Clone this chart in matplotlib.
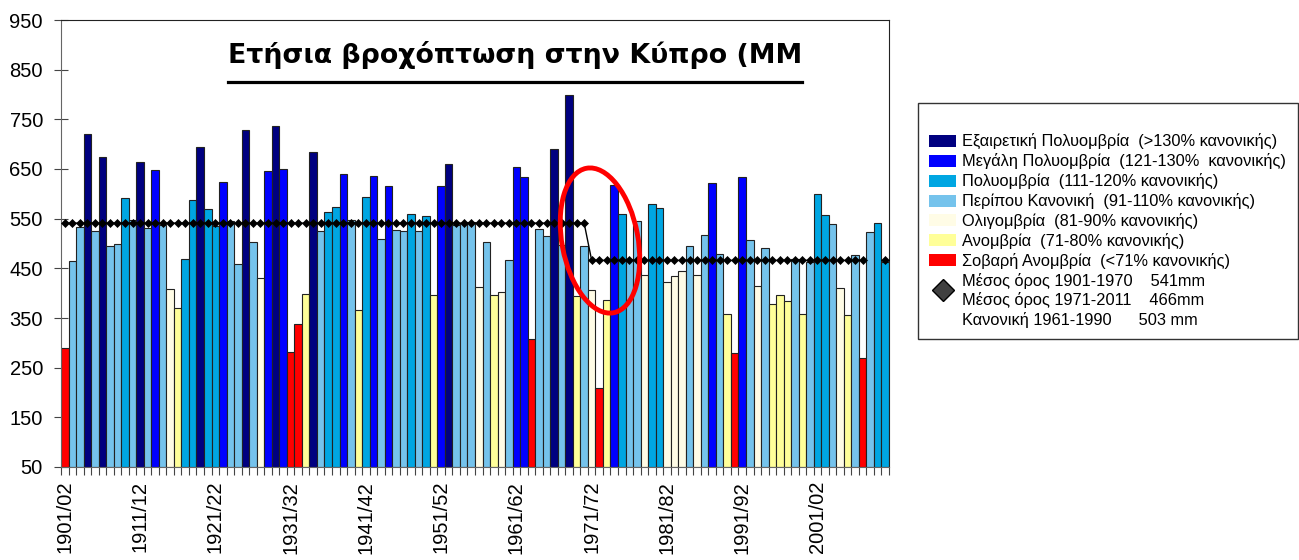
import matplotlib
matplotlib.use('Agg')
import matplotlib.pyplot as plt
import numpy as np
from matplotlib.patches import Patch, Ellipse
from matplotlib.lines import Line2D
from matplotlib import transforms

plt.rcParams['font.family'] = ['Liberation Sans', 'DejaVu Sans']

# annual rainfall (mm), 1901/02 .. 2010/11
rain = [290, 465, 533, 720, 526, 674, 494, 498, 591, 548,
        665, 531, 647, 538, 408, 370, 469, 587, 695, 569,
        536, 624, 546, 458, 729, 503, 431, 646, 736, 649,
        281, 338, 399, 685, 526, 564, 573, 640, 548, 367,
        594, 636, 510, 615, 528, 526, 559, 526, 556, 397,
        615, 661, 538, 542, 544, 413, 503, 397, 403, 466,
        654, 633, 307, 530, 516, 691, 497, 798, 395, 494,
        406, 210, 386, 617, 560, 468, 546, 436, 580, 571,
        422, 434, 445, 495, 436, 518, 621, 479, 359, 280,
        634, 507, 415, 491, 379, 397, 385, 469, 359, 463,
        599, 558, 540, 410, 357, 477, 269, 524, 542, 463]

# class of each year as shown by bar colour
cls = list("SKKEKEKKPK"
           "EKMKOAPPEP"
           "PMKKEKOMEM"
           "SSAEKPPMKA"
           "PMKMKKPKPA"
           "MEKKKOKAOK"
           "MMSKKEKEAK"
           "OSAMPKKOPP"
           "OOOKOKMKAS"
           "MKOKAAAKAK"
           "PPKOAKSKPP")

years = [f"{y}/{(y + 1) % 100:02d}" for y in range(1901, 1901 + len(rain))]

# period means (gap where the line is hidden)
mean_1901_1970 = 541
mean_1971_2011 = 466
mean_line = [mean_1901_1970] * 70 + [mean_1971_2011] * 40
mean_line[107] = np.nan
mean_line[108] = np.nan

classes = ['E', 'M', 'P', 'K', 'O', 'A', 'S']
class_colors = {'E': '#000080', 'M': '#0000FF', 'P': '#00A6E2', 'K': '#75C3EC',
                'O': '#FFFCE6', 'A': '#FFFF99', 'S': '#FF0000'}
class_labels = {'E': 'Εξαιρετική Πολυομβρία  (>130% κανονικής)',
                'M': 'Μεγάλη Πολυομβρία  (121-130%  κανονικής)',
                'P': 'Πολυομβρία  (111-120% κανονικής)',
                'K': 'Περίπου Κανονική  (91-110% κανονικής)',
                'O': 'Ολιγομβρία  (81-90% κανονικής)',
                'A': 'Ανομβρία  (71-80% κανονικής)',
                'S': 'Σοβαρή Ανομβρία  (<71% κανονικής)'}

fig = plt.figure(figsize=(12.99, 5.6), dpi=100)
ax = fig.add_axes([61 / 1299, 93 / 560, 828 / 1299, 447 / 560])

x = np.arange(len(rain))
ax.bar(x, np.array(rain) - 50, bottom=50, width=1.0,
       color=[class_colors[c] for c in cls], edgecolor='#222222', linewidth=0.8, zorder=2)
ax.plot(x, mean_line, color='black', lw=1.0, marker='D', ms=4.5, mew=0.5, zorder=3)

ax.set_xlim(-0.5, len(rain) - 0.5)
ax.set_ylim(50, 950)
ax.set_yticks(range(50, 951, 100))
ax.set_xticks(x[::10])
ax.set_xticklabels(years[::10], rotation=90)
ax.set_xticks(np.arange(-0.5, len(rain), 1), minor=True)
ax.tick_params(axis='x', which='major', length=0, pad=10, labelsize=14.5)
ax.tick_params(axis='x', which='minor', length=6, width=0.8, direction='out', color='#444444')
ax.tick_params(axis='y', length=10, width=0.8, direction='inout', pad=8, labelsize=14.5, color='#444444')
for s in ['left', 'bottom']:
    ax.spines[s].set_color('#666666')
for s in ['top', 'right']:
    ax.spines[s].set_color('#222222')

title = ax.text(0.548, 0.904, 'Ετήσια βροχόπτωση στην Κύπρο (MM', transform=ax.transAxes,
                ha='center', va='baseline', fontsize=19.3, fontweight='bold',
                family=['DejaVu Sans'])

# red ellipse around the change of period mean
ell_trans = fig.dpi_scale_trans + transforms.ScaledTranslation(71.1, 506, ax.transData)
ax.add_patch(Ellipse((0, 0), 0.76, 1.47, angle=10.6, transform=ell_trans,
                     fill=False, edgecolor='#FF0000', lw=3.5, zorder=5, clip_on=False))

handles = [Patch(facecolor=class_colors[c], edgecolor='none') for c in classes]
labels = [class_labels[c] for c in classes]
handles.append(Line2D([], [], ls='none', marker='D', ms=11, color='#404040', mec='black'))
labels.append('Μέσος όρος 1901-1970    541mm\nΜέσος όρος 1971-2011    466mm')
handles.append(Line2D([], [], ls='none'))
labels.append('Κανονική 1961-1990      503 mm')
leg = fig.legend(handles, labels, loc='upper left', bbox_to_anchor=(918 / 1299, 457 / 560),
                 borderaxespad=0, fontsize=11.8, frameon=True, fancybox=False, edgecolor='black',
                 handlelength=1.6, handleheight=0.75, handletextpad=0.4, labelspacing=0.24,
                 borderpad=0.7, title=' ', title_fontsize=11.5)
leg.get_frame().set_linewidth(1.0)

# underline the title
fig.canvas.draw()
bb = title.get_window_extent().transformed(fig.transFigure.inverted())
uy = (560 - 82) / 560
fig.add_artist(Line2D([bb.x0, bb.x1], [uy, uy], color='black', lw=2.3))

fig.savefig('out.png', dpi=100)
